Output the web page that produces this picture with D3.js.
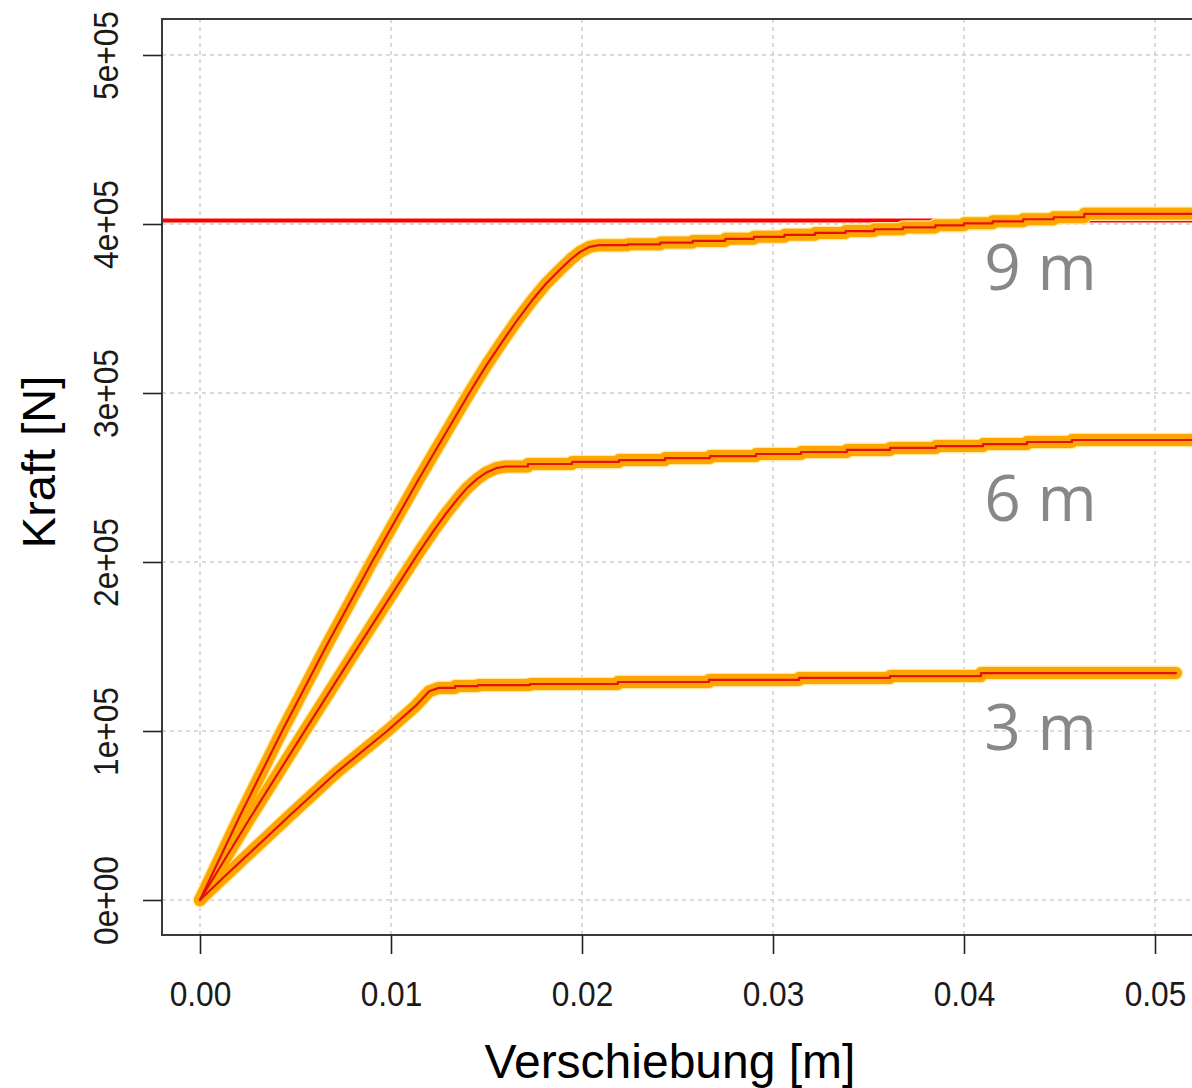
<!DOCTYPE html>
<html>
<head>
<meta charset="utf-8">
<script src="https://cdn.jsdelivr.net/npm/d3@7"></script>
<style>
  body { margin: 0; background: #fff; }
  svg { display: block; }
</style>
</head>
<body>
<svg id="chart" width="1192" height="1088"></svg>
<script>
// Force–displacement curves of three spans (displacement in m, force in N).
// Each curve: elastic rise, then a stepped hardening plateau.
const rise9Disp  = [0, 0.0021, 0.0043, 0.0066, 0.0090, 0.0115, 0.0141, 0.0150, 0.0158, 0.0166, 0.0174, 0.0181, 0.0188, 0.0194, 0.0199, 0.0204, 0.0209];
const rise9Force = [0, 0.50e5, 1.00e5, 1.50e5, 2.00e5, 2.50e5, 3.00e5, 3.165e5, 3.30e5, 3.43e5, 3.55e5, 3.645e5, 3.725e5, 3.79e5, 3.835e5, 3.865e5, 3.875e5];
const step9Disp  = [0.0224, 0.0241, 0.0258, 0.0275, 0.0290, 0.0306, 0.0322, 0.0338, 0.0353, 0.0368, 0.0385, 0.0400, 0.0415, 0.0431, 0.0447, 0.0463];
const step9Force = [3.880e5, 3.890e5, 3.900e5, 3.912e5, 3.924e5, 3.936e5, 3.947e5, 3.958e5, 3.969e5, 3.980e5, 3.992e5, 4.004e5, 4.016e5, 4.028e5, 4.040e5, 4.060e5];
const end9Disp   = 0.0535;

const rise6Disp  = [0, 0.0027, 0.0054, 0.0080, 0.0101, 0.0115, 0.0122, 0.0129, 0.0135, 0.0140, 0.0145, 0.0150, 0.0155, 0.0160];
const rise6Force = [0, 0.500e5, 0.986e5, 1.449e5, 1.819e5, 2.064e5, 2.180e5, 2.290e5, 2.375e5, 2.440e5, 2.490e5, 2.530e5, 2.555e5, 2.565e5];
const step6Disp  = [0.01717, 0.01948, 0.02194, 0.02435, 0.02670, 0.02911, 0.03147, 0.03387, 0.03613, 0.03853, 0.04100, 0.04330, 0.04565];
const step6Force = [2.580e5, 2.592e5, 2.603e5, 2.615e5, 2.627e5, 2.639e5, 2.651e5, 2.663e5, 2.675e5, 2.686e5, 2.698e5, 2.710e5, 2.722e5];
const end6Disp   = 0.0535;

const rise3Disp  = [0, 0.0012, 0.0047, 0.0072, 0.0098, 0.0113, 0.0120, 0.0125];
const rise3Force = [0, 0.13e5, 0.50e5, 0.76e5, 1.00e5, 1.15e5, 1.235e5, 1.255e5];
const step3Disp  = [0.01335, 0.01455, 0.01728, 0.02188, 0.02665, 0.03136, 0.03613, 0.04089];
const step3Force = [1.266e5, 1.272e5, 1.278e5, 1.290e5, 1.302e5, 1.314e5, 1.325e5, 1.343e5];
const end3Disp   = 0.0511;

// Horizontal reference force level
const limitForce = 4.02e5;

// Curve labels and where they sit (data units: displacement, force at text centre)
const seriesNames = ["9 m", "6 m", "3 m"];
const labelDisp   = [0.044, 0.044, 0.044];
const labelForce  = [3.745e5, 2.38e5, 1.024e5];

// Axis ticks
const xTicks = [0, 0.01, 0.02, 0.03, 0.04, 0.05];
const xTickLabels = ["0.00", "0.01", "0.02", "0.03", "0.04", "0.05"];
const yTicks = [0, 1e5, 2e5, 3e5, 4e5, 5e5];
const yTickLabels = ["0e+00", "1e+05", "2e+05", "3e+05", "4e+05", "5e+05"];

// ---- layout ----
const svg = d3.select("#chart");
const box = { left: 162, right: 1233, top: 19, bottom: 935 };

const x = d3.scaleLinear().domain([0, 0.05]).range([200, 1155]);
const y = d3.scaleLinear().domain([0, 5e5]).range([900, 55]);

svg.append("defs").append("clipPath").attr("id", "plotclip")
  .append("rect")
  .attr("x", box.left).attr("y", box.top)
  .attr("width", box.right - box.left).attr("height", box.bottom - box.top);

// grid
const grid = svg.append("g").attr("stroke", "#cfcfcf").attr("stroke-width", 1.5)
  .attr("stroke-dasharray", "4,4");
grid.selectAll("line.v").data(xTicks).join("line").attr("class", "v")
  .attr("x1", d => x(d)).attr("x2", d => x(d))
  .attr("y1", box.top).attr("y2", box.bottom);
grid.selectAll("line.h").data(yTicks).join("line").attr("class", "h")
  .attr("y1", d => y(d)).attr("y2", d => y(d))
  .attr("x1", box.left).attr("x2", box.right);

const plot = svg.append("g").attr("clip-path", "url(#plotclip)");

// reference level
plot.append("line")
  .attr("x1", box.left).attr("x2", box.right)
  .attr("y1", y(limitForce)).attr("y2", y(limitForce))
  .attr("stroke", "#ff0000").attr("stroke-width", 4);

// build a curve: smooth rise followed by a staircase plateau
function buildCurve(rd, rf, sd, sf, endD) {
  const pts = rd.map((d, i) => [d, rf[i]]);
  let level = rf[rf.length - 1];
  sd.forEach((d, i) => {
    pts.push([d, level]);
    level = sf[i];
    pts.push([d, level]);
  });
  pts.push([endD, level]);
  return pts;
}

const curves = [
  buildCurve(rise9Disp, rise9Force, step9Disp, step9Force, end9Disp),
  buildCurve(rise6Disp, rise6Force, step6Disp, step6Force, end6Disp),
  buildCurve(rise3Disp, rise3Force, step3Disp, step3Force, end3Disp)
];

const line = d3.line().x(d => x(d[0])).y(d => y(d[1]));

// pale fringe, orange band, thin red core
plot.selectAll("path.fringe").data(curves).join("path").attr("class", "fringe")
  .attr("d", line).attr("fill", "none")
  .attr("stroke", "#ffe9a0").attr("stroke-width", 14.5)
  .attr("stroke-linecap", "round").attr("stroke-linejoin", "round");
plot.selectAll("path.band").data(curves).join("path").attr("class", "band")
  .attr("d", line).attr("fill", "none")
  .attr("stroke", "#ffa500").attr("stroke-width", 12)
  .attr("stroke-linecap", "round").attr("stroke-linejoin", "round");
plot.selectAll("path.core").data(curves).join("path").attr("class", "core")
  .attr("d", line).attr("fill", "none")
  .attr("stroke", "#e4120c").attr("stroke-width", 2.2)
  .attr("stroke-linecap", "round").attr("stroke-linejoin", "round");

// curve labels
svg.append("g").selectAll("text").data(seriesNames).join("text")
  .attr("x", (d, i) => x(labelDisp[i]))
  .attr("y", (d, i) => y(labelForce[i]))
  .attr("dy", "0.357em")
  .attr("text-anchor", "middle")
  .attr("font-family", "'Open Sans', 'Noto Sans', sans-serif")
  .attr("font-size", 64)
  .attr("fill", "#888888")
  .text(d => d);

// frame
svg.append("rect")
  .attr("x", box.left).attr("y", box.top)
  .attr("width", box.right - box.left).attr("height", box.bottom - box.top)
  .attr("fill", "none").attr("stroke", "#3a3a3a").attr("stroke-width", 2);

const tickFont = "'Liberation Sans', Arial, sans-serif";

// x axis
const xAxis = svg.append("g").attr("transform", `translate(0,${box.bottom})`)
  .call(d3.axisBottom(x).tickValues(xTicks).tickFormat((d, i) => xTickLabels[i])
    .tickSize(19).tickSizeOuter(0));
xAxis.select(".domain").remove();
xAxis.selectAll(".tick line").attr("stroke", "#222").attr("stroke-width", 1.6);
xAxis.selectAll(".tick text")
  .attr("y", 0).attr("dy", 0)
  .attr("transform", "translate(0,71) scale(0.88,1)")
  .attr("font-family", tickFont).attr("font-size", 36).attr("fill", "#1a1a1a");

// y axis
const yAxis = svg.append("g").attr("transform", `translate(${box.left},0)`)
  .call(d3.axisLeft(y).tickValues(yTicks).tickFormat((d, i) => yTickLabels[i])
    .tickSize(19).tickSizeOuter(0));
yAxis.select(".domain").remove();
yAxis.selectAll(".tick line").attr("stroke", "#222").attr("stroke-width", 1.6);
yAxis.selectAll(".tick text")
  .attr("x", 0).attr("y", 0).attr("dy", 0)
  .attr("text-anchor", "middle")
  .attr("transform", "translate(-44,0) rotate(-90) scale(0.88,1)")
  .attr("font-family", tickFont).attr("font-size", 36).attr("fill", "#1a1a1a");

// axis titles
svg.append("text")
  .attr("x", 670).attr("y", 1078)
  .attr("text-anchor", "middle")
  .attr("font-family", tickFont).attr("font-size", 48).attr("fill", "#000")
  .text("Verschiebung [m]");
svg.append("text")
  .attr("transform", "translate(55,462) rotate(-90)")
  .attr("text-anchor", "middle")
  .attr("font-family", tickFont).attr("font-size", 47).attr("fill", "#000")
  .text("Kraft [N]");
</script>
</body>
</html>
